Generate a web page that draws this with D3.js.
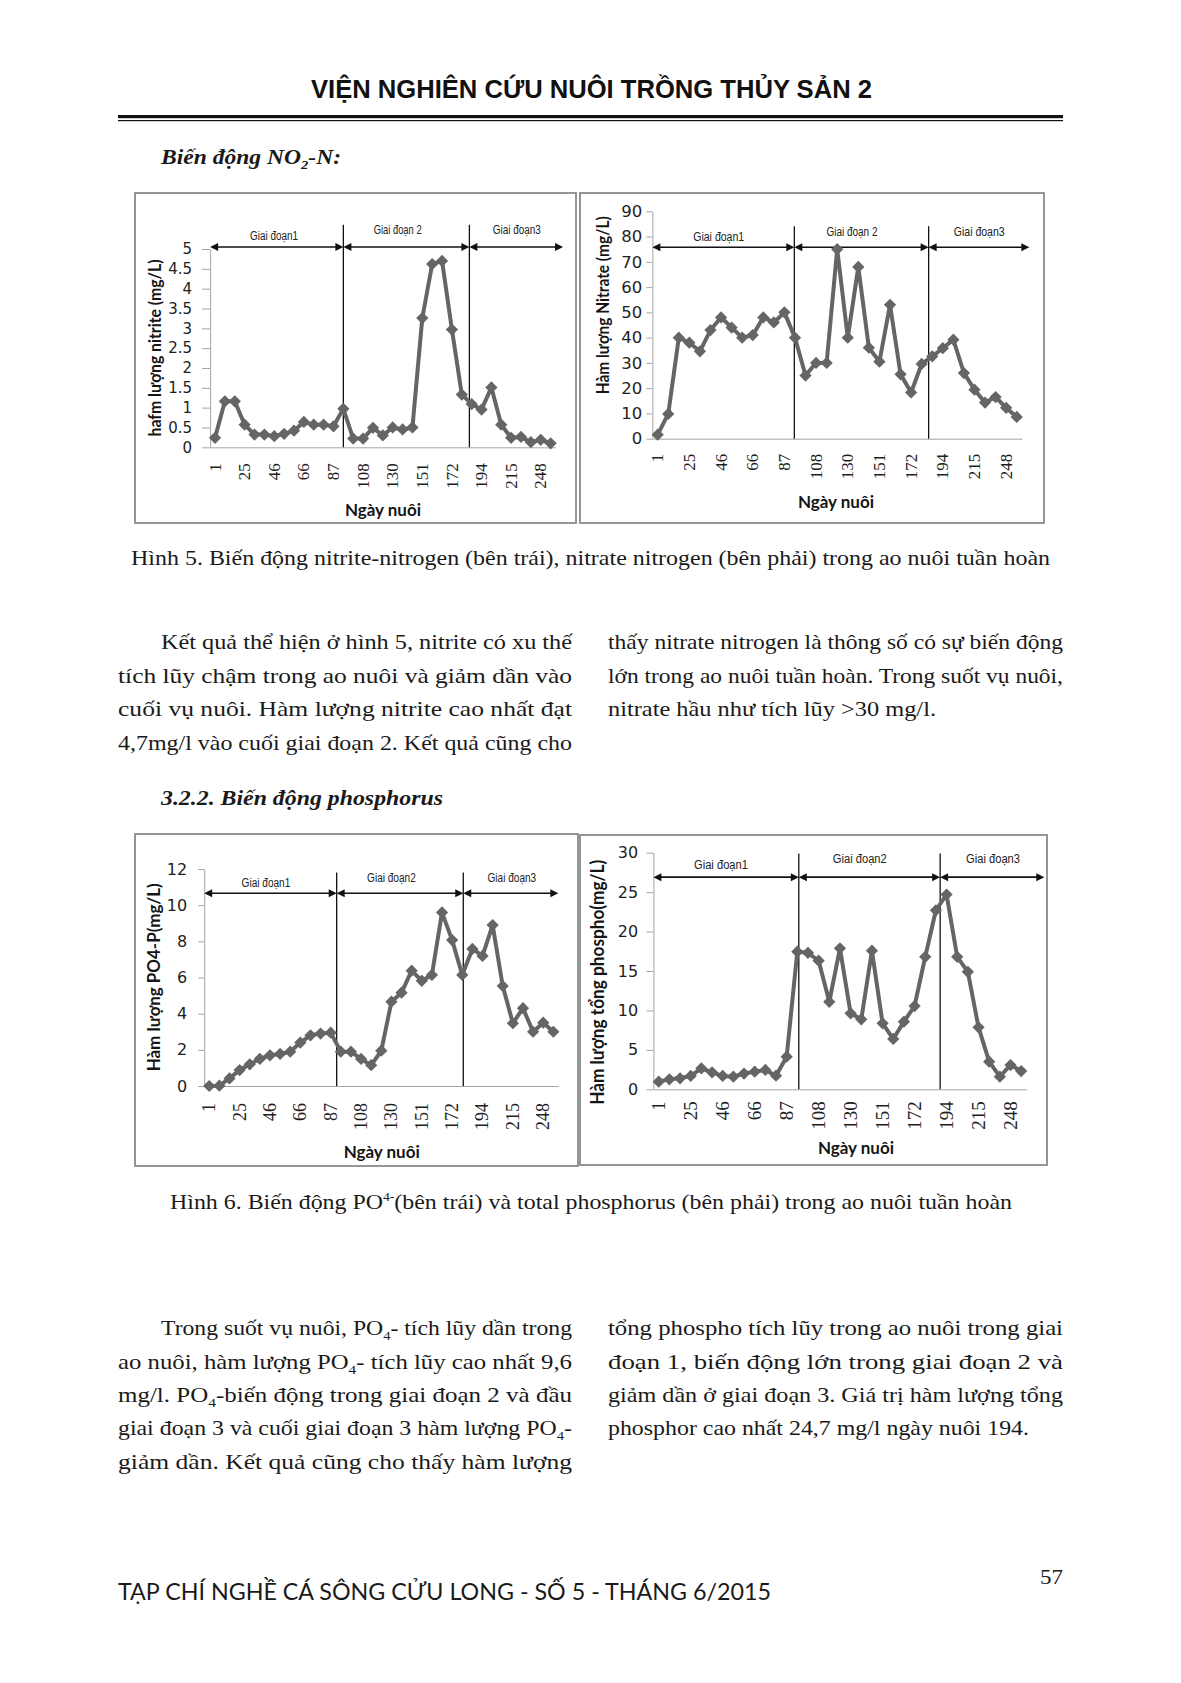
<!DOCTYPE html>
<html><head><meta charset="utf-8">
<script src="https://cdn.jsdelivr.net/npm/d3@7"></script>
<style>body{margin:0;background:#fff}svg{display:block}</style>
</head><body>
<svg id="page" width="1181" height="1683"></svg>
<script>
// ---------- DATA ----------
const days = [1,9,17,25,32,39,46,53,60,66,73,80,87,94,101,108,115,122,130,137,144,151,158,165,172,179,186,194,201,208,215,226,237,248,259];
const shownDays = [1,25,46,66,87,108,130,151,172,194,215,248];

const nitrite = [0.24,1.16,1.16,0.57,0.32,0.32,0.28,0.34,0.42,0.64,0.57,0.57,0.53,0.97,0.22,0.22,0.49,0.3,0.5,0.45,0.5,3.26,4.62,4.7,2.97,1.33,1.09,0.95,1.51,0.57,0.24,0.26,0.13,0.19,0.1];
const nitrate = [1.6,9.8,40,38,34.6,43,48,44,40,41,48,46,50,40,25,30,30,75,40,68,36,30.5,53,25.5,18.3,29.6,32.6,35.8,39.2,26,19.4,14.3,16.5,12.2,8.6];
const po4 = [0,0.02,0.42,0.88,1.2,1.5,1.7,1.77,1.9,2.4,2.8,2.9,2.95,1.9,1.9,1.5,1.15,1.95,4.66,5.16,6.38,5.82,6.14,9.6,8.07,6.14,7.58,7.19,8.9,5.53,3.47,4.3,3.0,3.5,3.0];
const totalP = [0.97,1.27,1.4,1.7,2.66,2.15,1.7,1.6,2.0,2.24,2.45,1.73,4.14,17.45,17.3,16.3,11.1,17.87,9.63,8.87,17.57,8.37,6.38,8.58,10.56,16.8,22.7,24.7,16.8,14.9,7.86,3.5,1.6,3.08,2.32];

const ticksNitrite = [0,0.5,1,1.5,2,2.5,3,3.5,4,4.5,5];
const ticksNitrate = [0,10,20,30,40,50,60,70,80,90];
const ticksPO4 = [0,2,4,6,8,10,12];
const ticksTP = [0,5,10,15,20,25,30];

const stagesA = ["Giai đoạn1","Giai đoạn 2","Giai đoạn3"];
const stagesB = ["Giai đoạn1","Giai đoạn2","Giai đoạn3"];
const xTitle = "Ngày nuôi";

// ---------- LAYOUT ----------
const svg = d3.select("#page");
svg.append("rect").attr("width",1181).attr("height",1683).attr("fill","#fff");

const charts = [
 {values:nitrite, ticks:ticksNitrite, yMax:5, yLabel:"hafm lượng nitrite (mg/L)", stages:stagesA,
  frame:[135,193,441,330], x0:210.1, band:9.87, y0:447.3, yTop:249, tickLen:8, tickPad:10, tickFs:15,
  xlabGap:16, xlabFs:17, dividers:[13.0,25.77], divTop:5.61, arrowY:5.05, arrowEnd:35.26,
  stPos:[5.98,18.5,30.57], stY:[5.23,5.37,5.37], stW:48, yT:[155,348,177,16.5], xT:[383,516]},
 {values:nitrate, ticks:ticksNitrate, yMax:90, yLabel:"Hàm lượng Nitrate (mg/L)", stages:stagesA,
  frame:[580,193,464,330], x0:652.4, band:10.56, y0:438.7, yTop:211.3, tickLen:6, tickPad:4.2, tickFs:16.5,
  xlabGap:15, xlabFs:17, dividers:[12.94,25.66], divTop:84.1, arrowY:75.8, arrowEnd:35.19,
  stPos:[5.78,18.4,30.45], stY:[78.1,80.4,80.4], stW:51, yT:[602.7,305.3,178,16.5], xT:[836,508]},
 {values:po4, ticks:ticksPO4, yMax:12, yLabel:"Hàm lượng PO4-P(mg/L)", stages:stagesB,
  frame:[135,834,443,332], x0:204.2, band:10.12, y0:1086, yTop:869, tickLen:6, tickPad:11, tickFs:16,
  xlabGap:17, xlabFs:18, dividers:[12.59,25.1], divTop:11.8, arrowY:10.66, arrowEnd:34.49,
  stPos:[5.6,18.0,29.9], stY:[10.99,11.3,11.3], stW:48.7, yT:[154,977.3,188,16.5], xT:[381.7,1158]},
 {values:totalP, ticks:ticksTP, yMax:30, yLabel:"Hàm lượng tổng phospho(mg/L)", stages:stagesB,
  frame:[580,835,467,330], x0:653.4, band:10.66, y0:1089.3, yTop:852.7, tickLen:7, tickPad:8.2, tickFs:16,
  xlabGap:12, xlabFs:19, dividers:[13.14,26.4], divTop:29.9, arrowY:26.9, arrowEnd:36.17,
  stPos:[5.84,18.86,31.36], stY:[27.88,28.64,28.64], stW:54, yT:[596.7,982.3,245,18.5], xT:[856,1154]}
];

const diamond = {draw(ctx,size){const r=Math.sqrt(size)/2;ctx.moveTo(0,-r);ctx.lineTo(r,0);ctx.lineTo(0,r);ctx.lineTo(-r,0);ctx.closePath();}};

function arrowSeg(g, xa, xb, yy){
  const L=8, H=4;
  g.append("line").attr("x1",xa+L-1).attr("x2",xb-L+1).attr("y1",yy).attr("y2",yy).attr("stroke","#111").attr("stroke-width",1.6);
  g.append("path").attr("d",`M${xa},${yy}L${xa+L},${yy-H}L${xa+L},${yy+H}Z`).attr("fill","#111");
  g.append("path").attr("d",`M${xb},${yy}L${xb-L},${yy-H}L${xb-L},${yy+H}Z`).attr("fill","#111");
}

function drawChart(c){
  const g = svg.append("g");
  g.append("rect").attr("x",c.frame[0]).attr("y",c.frame[1]).attr("width",c.frame[2]).attr("height",c.frame[3])
    .attr("fill","#fff").attr("stroke","#8a8a8a").attr("stroke-width",1.8);
  const n = c.values.length;
  const x = d3.scaleBand().domain(days).range([c.x0, c.x0+n*c.band]).padding(0);
  const xi = d3.scaleLinear().domain([-0.5, n-0.5]).range([c.x0, c.x0+n*c.band]);
  const y = d3.scaleLinear().domain([0,c.yMax]).range([c.y0,c.yTop]);

  const ya = g.append("g").attr("transform",`translate(${c.x0},0)`)
    .call(d3.axisLeft(y).tickValues(c.ticks).tickSize(c.tickLen).tickPadding(c.tickPad).tickSizeOuter(0).tickFormat(d=>String(d)));
  ya.select(".domain").attr("stroke","#a5a5a5");
  ya.selectAll(".tick line").attr("stroke","#a5a5a5");
  ya.selectAll("text").attr("font-family","'DejaVu Sans'").attr("font-size",c.tickFs).attr("fill","#1e1e1e");

  const xa = g.append("g").attr("transform",`translate(0,${c.y0})`)
    .call(d3.axisBottom(x).tickValues(shownDays).tickSize(0).tickSizeOuter(0));
  xa.select(".domain").attr("stroke","#a5a5a5");
  xa.selectAll("text").attr("transform","rotate(-90)").attr("text-anchor","end")
    .attr("x",-c.xlabGap).attr("y",0).attr("dy","0.33em")
    .attr("font-family","'Liberation Serif'").attr("font-size",c.xlabFs).attr("fill","#1e1e1e");

  // stage dividers
  g.selectAll(".dv").data(c.dividers).join("line")
    .attr("x1",d=>xi(d)).attr("x2",d=>xi(d)).attr("y1",y(0)).attr("y2",y(c.divTop))
    .attr("stroke","#111").attr("stroke-width",1.3);
  // arrows
  const bounds = [-0.5, c.dividers[0], c.dividers[1], c.arrowEnd];
  for(let i=0;i<3;i++) arrowSeg(g, xi(bounds[i]), xi(bounds[i+1]), y(c.arrowY));
  // stage labels
  c.stages.forEach((s,i)=>{
    g.append("text").attr("x",xi(c.stPos[i])-c.stW/2).attr("y",y(c.stY[i])).text(s)
      .attr("font-family","'Liberation Sans'").attr("font-size",12.5).attr("fill","#222")
      .attr("textLength",c.stW).attr("lengthAdjust","spacingAndGlyphs");
  });

  // series
  const line = d3.line().x((d,i)=>x(days[i])+x.bandwidth()/2).y(d=>y(d));
  g.append("path").datum(c.values).attr("d",line).attr("fill","none")
    .attr("stroke","#656565").attr("stroke-width",4).attr("stroke-linejoin","round");
  g.selectAll(".mk").data(c.values).join("path")
    .attr("transform",(d,i)=>`translate(${x(days[i])+x.bandwidth()/2},${y(d)})`)
    .attr("d",d3.symbol(diamond,150)).attr("fill","#656565");

  // titles
  g.append("text").attr("transform",`translate(${c.yT[0]},${c.yT[1]}) rotate(-90)`)
    .attr("text-anchor","middle").attr("dominant-baseline","central")
    .attr("font-family","Lato").attr("font-weight","bold").attr("font-size",c.yT[3]).attr("fill","#151515")
    .attr("textLength",c.yT[2]).attr("lengthAdjust","spacingAndGlyphs").text(c.yLabel);
  g.append("text").attr("x",c.xT[0]).attr("y",c.xT[1]).attr("text-anchor","middle")
    .attr("font-family","Lato").attr("font-weight","bold").attr("font-size",17).attr("fill","#151515").text(xTitle);
}
charts.forEach(drawChart);

// ---------- PAGE TEXT ----------
function para(x, yb, segs, opts){
  const t = svg.append("text").attr("x",x).attr("y",yb)
    .attr("font-family", opts.family || "'Liberation Serif'")
    .attr("font-size", opts.fs || 21).attr("fill", opts.fill || "#1a1a1a");
  if(opts.weight) t.attr("font-weight",opts.weight);
  if(opts.style) t.attr("font-style",opts.style);
  if(opts.len) t.attr("textLength",opts.len).attr("lengthAdjust","spacingAndGlyphs");
  let shift = 0;
  segs.forEach(s=>{
    if(typeof s === "string"){ t.append("tspan").attr("dy",-shift).text(s); shift=0; }
    else { const dy = s.sub ? 5 : -8; t.append("tspan").attr("dy",dy-shift).attr("font-size",s.fs||13).text(s.t); shift=dy; }
  });
  return t;
}

para(311, 98, ["VIỆN NGHIÊN CỨU NUÔI TRỒNG THỦY SẢN 2"], {family:"'Liberation Sans'", weight:"bold", fs:26, len:561, fill:"#111"});
svg.append("rect").attr("x",118).attr("y",115).attr("width",945).attr("height",3.2).attr("fill","#111");
svg.append("rect").attr("x",118).attr("y",120).attr("width",945).attr("height",1.2).attr("fill","#111");

para(161, 164, ["Biến động NO",{t:"2",sub:true,fs:13},"-N:"], {weight:"bold", style:"italic", fs:21, len:180});
para(131, 565, ["Hình 5. Biến động nitrite-nitrogen (bên trái), nitrate nitrogen (bên phải) trong ao nuôi tuần hoàn"], {len:919});

const p1L = [[161,"Kết quả thể hiện ở hình 5, nitrite có xu thế",411],
             [118,"tích lũy chậm trong ao nuôi và giảm dần vào",454],
             [118,"cuối vụ nuôi. Hàm lượng nitrite cao nhất đạt",454],
             [118,"4,7mg/l vào cuối giai đoạn 2. Kết quả cũng cho",454]];
const p1R = [[608,"thấy nitrate nitrogen là thông số có sự biến động",455],
             [608,"lớn trong ao nuôi tuần hoàn. Trong suốt vụ nuôi,",455],
             [608,"nitrate hầu như tích lũy  >30 mg/l.",328]];
const p1Y = [649,683,716,750];
p1L.forEach((l,i)=>para(l[0],p1Y[i],[l[1]],{len:l[2]}));
p1R.forEach((l,i)=>para(l[0],p1Y[i],[l[1]],{len:l[2]}));

para(161, 805, ["3.2.2. Biến động phosphorus"], {weight:"bold", style:"italic", fs:21, len:282});
para(170, 1209, ["Hình 6. Biến động PO",{t:"4-",sup:true,fs:12},"(bên trái) và total phosphorus (bên phải) trong ao nuôi tuần hoàn"], {len:842});

const p2Y = [1335,1369,1402,1435,1469];
const p2L = [[161,["Trong suốt vụ nuôi, PO",{t:"4",sub:true},"- tích lũy dần trong"],411],
             [118,["ao nuôi, hàm lượng PO",{t:"4",sub:true},"- tích lũy cao nhất 9,6"],454],
             [118,["mg/l. PO",{t:"4",sub:true},"-biến động trong giai đoạn 2 và đầu"],454],
             [118,["giai đoạn 3 và cuối giai đoạn 3 hàm lượng PO",{t:"4",sub:true},"-"],454],
             [118,["giảm dần. Kết quả cũng cho thấy hàm lượng"],454]];
const p2R = [[608,["tổng phospho tích lũy trong ao nuôi trong giai"],455],
             [608,["đoạn 1, biến động lớn trong giai đoạn 2 và"],455],
             [608,["giảm dần ở giai đoạn 3. Giá trị hàm lượng tổng"],455],
             [608,["phosphor cao nhất 24,7 mg/l ngày nuôi 194."],421]];
p2L.forEach((l,i)=>para(l[0],p2Y[i],l[1],{len:l[2]}));
p2R.forEach((l,i)=>para(l[0],p2Y[i],l[1],{len:l[2]}));

para(118, 1600, ["TẠP CHÍ NGHỀ CÁ SÔNG CỬU LONG - SỐ 5 - THÁNG 6/2015"], {family:"Lato", fs:23, len:653, fill:"#1a1a1a"});
para(1040, 1584, ["57"], {fs:22, len:23});
</script>
</body></html>
